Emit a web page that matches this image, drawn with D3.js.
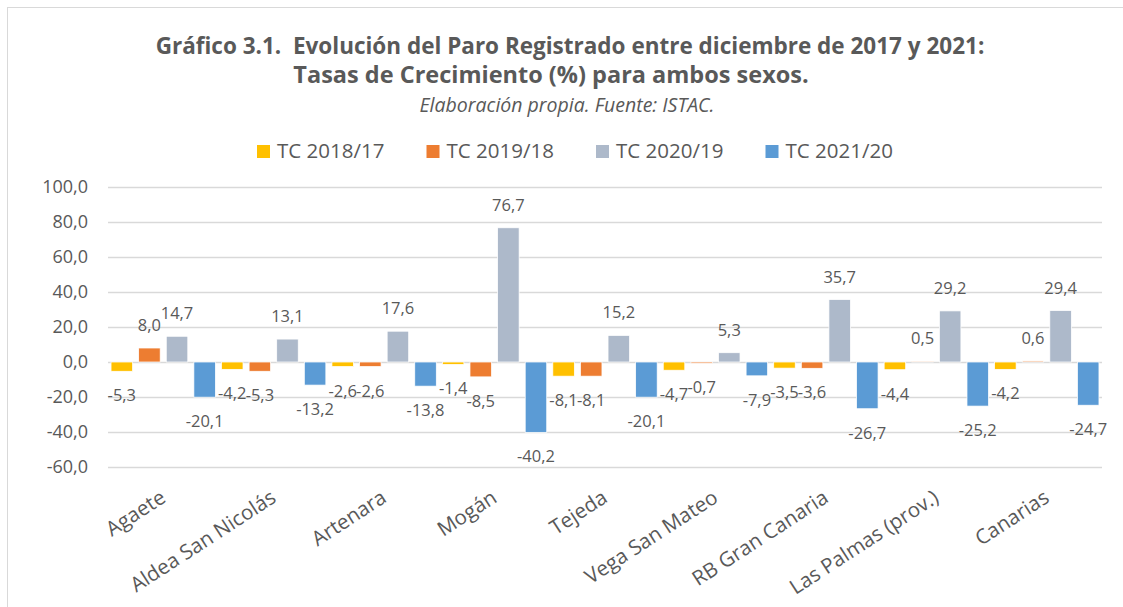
<!DOCTYPE html>
<html>
<head>
<meta charset="utf-8">
<script src="https://cdn.jsdelivr.net/npm/d3@7"></script>
<style>
  body { margin: 0; background: #fff; }
  text { font-family: "Open Sans", sans-serif; fill: #595959; }
</style>
</head>
<body>
<div id="chart"></div>
<script>
let categories = ["Agaete", "Aldea San Nicolás", "Artenara", "Mogán", "Tejeda",
                  "Vega San Mateo", "RB Gran Canaria", "Las Palmas (prov.)", "Canarias"];
let series_names = ["TC 2018/17", "TC 2019/18", "TC 2020/19", "TC 2021/20"];
let tc_2018_17 = [-5.3, -4.2, -2.6, -1.4, -8.1, -4.7, -3.5, -4.4, -4.2];
let tc_2019_18 = [8.0, -5.3, -2.6, -8.5, -8.1, -0.7, -3.6, 0.5, 0.6];
let tc_2020_19 = [14.7, 13.1, 17.6, 76.7, 15.2, 5.3, 35.7, 29.2, 29.4];
let tc_2021_20 = [-20.1, -13.2, -13.8, -40.2, -20.1, -7.9, -26.7, -25.2, -24.7];
let y_ticks = [-60, -40, -20, 0, 20, 40, 60, 80, 100];

let colors = ["#FFC000", "#ED7D31", "#ADB9CA", "#5B9BD5"];
let values = [tc_2018_17, tc_2019_18, tc_2020_19, tc_2021_20];

let chart_width = 1123;
let chart_height = 607;
let margin = { left: 108, right: 21, top: 187, bottom: 140 };

let fmt = v => d3.format(".1f")(v).replace(".", ",").replace("−", "-");

//svg
let svg = d3.select("#chart")
            .append("svg")
            .attr("width", chart_width)
            .attr("height", chart_height);

// chart frame
svg.append("rect")
  .attr("x", 7.5).attr("y", 7.5)
  .attr("width", chart_width + 10).attr("height", chart_height + 10)
  .attr("fill", "none").attr("stroke", "#D9D9D9");

//titles
svg.append("text")
  .attr("x", 570).attr("y", 54)
  .attr("text-anchor", "middle")
  .attr("xml:space", "preserve")
  .style("font-weight", "bold").style("font-size", "22.5px")
  .text("Gráfico 3.1.  Evolución del Paro Registrado entre diciembre de 2017 y 2021:");

svg.append("text")
  .attr("x", 551).attr("y", 83)
  .attr("text-anchor", "middle")
  .style("font-weight", "bold").style("font-size", "23.5px")
  .text("Tasas de Crecimiento (%) para ambos sexos.");

svg.append("text")
  .attr("x", 567).attr("y", 112)
  .attr("text-anchor", "middle")
  .style("font-style", "italic").style("font-size", "19.5px")
  .text("Elaboración propia. Fuente: ISTAC.");

//scales
let x0 = d3.scaleBand()
        .domain(categories)
        .range([margin.left, chart_width - margin.right])
        .padding(0);

let x1 = d3.scaleBand()
        .domain(series_names)
        .range([0, x0.bandwidth()])
        .paddingInner(0.22)
        .paddingOuter(0.11);

let y_scale = d3.scaleLinear()
        .domain([-60, 100])
        .range([467, 187]);

//grid + y axis
let y_axis = d3.axisLeft(y_scale)
        .tickValues(y_ticks)
        .tickSize(-(chart_width - margin.right - margin.left))
        .tickPadding(20)
        .tickFormat(fmt);

let gy = svg.append("g")
  .attr("class", "y-axis")
  .attr("transform", "translate(" + margin.left + ",0)")
  .call(y_axis);
gy.select(".domain").remove();
gy.selectAll("line").attr("stroke", "#D9D9D9").attr("stroke-width", 1.5);
gy.selectAll("text").style("font-size", "18px").attr("fill", "#595959");

//x labels
svg.append("g")
  .selectAll("text")
  .data(categories)
  .enter()
  .append("text")
  .attr("transform", d => "translate(" + (x0(d) + x0.bandwidth() / 2 - 4) + ",489) rotate(-33)")
  .attr("text-anchor", "end")
  .attr("dy", "0.7em")
  .style("font-size", "20.5px")
  .text(d => d);

//bars
let groups = svg.append("g")
  .selectAll("g")
  .data(series_names)
  .enter()
  .append("g")
  .attr("fill", (d, i) => colors[i]);

groups.selectAll("rect")
  .data((s, i) => categories.map((c, j) => ({ s: s, c: c, v: values[i][j] })))
  .enter()
  .append("rect")
  .attr("x", d => x0(d.c) + x1(d.s))
  .attr("width", x1.bandwidth())
  .attr("y", d => y_scale(Math.max(0, d.v)))
  .attr("height", d => Math.abs(y_scale(d.v) - y_scale(0)))
  .attr("stroke", "#fff")
  .attr("stroke-width", 0.75);

//labels
groups.selectAll("text")
  .data((s, i) => categories.map((c, j) => ({ s: s, c: c, v: values[i][j] })))
  .enter()
  .append("text")
  .attr("x", d => x0(d.c) + x1(d.s) + x1.bandwidth() / 2)
  .attr("y", d => d.v >= 0 ? y_scale(d.v) - 17 : y_scale(d.v) + 30)
  .attr("text-anchor", "middle")
  .style("font-size", "16.5px")
  .text(d => fmt(d.v));

//legend
let legend = svg.append("g")
  .selectAll("g")
  .data(series_names)
  .enter()
  .append("g")
  .attr("transform", (d, i) => "translate(" + (257 + i * 169.5) + ",145)");

legend.append("rect")
  .attr("width", 13).attr("height", 13)
  .attr("fill", (d, i) => colors[i]);

legend.append("text")
  .attr("x", 20).attr("y", 13)
  .style("font-size", "20.5px")
  .text(d => d);
</script>
</body>
</html>
